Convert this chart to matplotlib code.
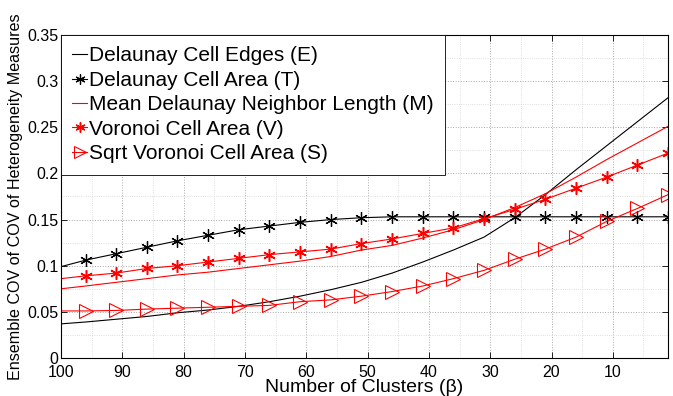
import matplotlib
matplotlib.use('Agg')
from matplotlib import pyplot as plt
from matplotlib.ticker import MultipleLocator
import numpy as np

plt.rcParams['font.family'] = ['Liberation Sans', 'DejaVu Sans']

# number of clusters (first point is the line start, the rest carry markers)
clusters = [100, 96, 91, 86, 81, 76, 71, 66, 61, 56, 51, 46, 41, 36, 31, 26, 21, 16, 11, 6, 1]

cell_edges = [0.037, 0.039, 0.042, 0.045, 0.049, 0.052, 0.056, 0.061, 0.067, 0.074, 0.082,
              0.092, 0.104, 0.117, 0.131, 0.152, 0.177, 0.204, 0.230, 0.256, 0.282]
cell_area = [0.099, 0.106, 0.113, 0.120, 0.127, 0.133, 0.139, 0.143, 0.147, 0.150, 0.152,
             0.153, 0.153, 0.153, 0.153, 0.153, 0.153, 0.153, 0.153, 0.153, 0.153]
neighbor_len = [0.075, 0.078, 0.082, 0.086, 0.090, 0.093, 0.097, 0.101, 0.105, 0.110, 0.117,
                0.122, 0.130, 0.139, 0.150, 0.163, 0.178, 0.196, 0.215, 0.233, 0.251]
voronoi_area = [0.086, 0.089, 0.092, 0.097, 0.100, 0.104, 0.108, 0.112, 0.115, 0.118, 0.124,
                0.129, 0.135, 0.141, 0.151, 0.161, 0.172, 0.184, 0.196, 0.209, 0.222]
sqrt_voronoi = [0.051, 0.051, 0.0515, 0.053, 0.054, 0.055, 0.056, 0.057, 0.061, 0.063, 0.067,
                0.072, 0.078, 0.086, 0.095, 0.107, 0.118, 0.131, 0.148, 0.162, 0.177]

labels = ['Delaunay Cell Edges (E)', 'Delaunay Cell Area (T)',
          'Mean Delaunay Neighbor Length (M)', 'Voronoi Cell Area (V)',
          'Sqrt Voronoi Cell Area (S)']

x_ticks = [100, 90, 80, 70, 60, 50, 40, 30, 20, 10]
y_ticks = [0, 0.05, 0.1, 0.15, 0.2, 0.25, 0.3, 0.35]
y_tick_labels = ['0', '0.05', '0.1', '0.15', '0.2', '0.25', '0.3', '0.35']

fig = plt.figure(figsize=(6.73, 3.96), dpi=100)
ax = fig.add_axes([61 / 673, 1 - 358 / 396, 607 / 673, 323 / 396])

star = (6, 2, 0)  # matlab style asterisk
mk = slice(1, None)
ax.plot(clusters, cell_edges, color='black', lw=0.8, label=labels[0])
ax.plot(clusters, cell_area, color='black', lw=0.8, marker=star, ms=9, mew=0.9,
        markevery=mk, label=labels[1])
ax.plot(clusters, neighbor_len, color='red', lw=0.8, label=labels[2])
ax.plot(clusters, voronoi_area, color='red', lw=0.8, marker=star, ms=9, mew=1.1,
        markevery=mk, label=labels[3])
ax.plot(clusters, sqrt_voronoi, color='red', lw=0.8, marker='>', ms=10, mew=0.8,
        mfc='none', markevery=mk, label=labels[4])

ax.set_xlim(100, 1)
ax.set_ylim(0, 0.35)
ax.set_xticks(x_ticks)
ax.set_yticks(y_ticks)
ax.set_yticklabels(y_tick_labels)
ax.xaxis.set_minor_locator(MultipleLocator(5))
ax.yaxis.set_minor_locator(MultipleLocator(0.025))
ax.tick_params(which='both', direction='in', top=True, right=True, labelsize=11.5)
ax.tick_params(axis='x', pad=5)
ax.tick_params(axis='y', pad=2)
ax.tick_params(which='major', length=4, width=0.6)
ax.tick_params(which='minor', length=0)
ax.grid(which='major', color='#aaaaaa', ls=':', lw=0.7)
ax.grid(which='minor', color='#d5d5d5', ls=':', lw=0.6)
for s in ax.spines.values():
    s.set_linewidth(0.8)

ax.set_xlabel('Number of Clusters (\u03b2)', fontsize=14, labelpad=-1)
ax.set_ylabel('Ensemble COV of COV of Heterogeneity Measures', fontsize=11.6, labelpad=3)

leg = ax.legend(loc='upper left', bbox_to_anchor=(0, 1), borderaxespad=0, fontsize=15,
                handlelength=0.7, handletextpad=0.1, labelspacing=0.26, borderpad=0.55,
                fancybox=False, framealpha=1, edgecolor='black', markerscale=0.8)
leg.get_frame().set_linewidth(0.6)

fig.savefig('out.png', dpi=100)
